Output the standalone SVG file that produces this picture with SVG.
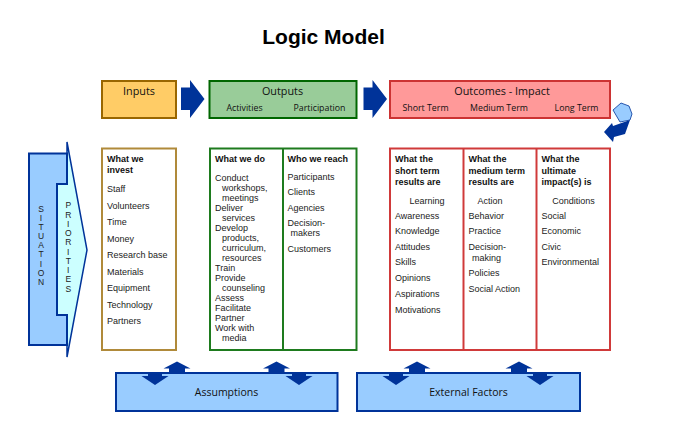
<svg xmlns="http://www.w3.org/2000/svg" width="684" height="444" viewBox="0 0 684 444">
<style>
.title{font-family:"Liberation Sans",Arial,sans-serif;font-size:21px;font-weight:bold;fill:#000}
.hd{font-family:"Open Sans","Noto Sans",sans-serif;font-size:10.8px;fill:#111}
.sub{font-family:"Open Sans","Noto Sans",sans-serif;font-size:8.8px;fill:#111}
.b{font-family:"Liberation Sans",Arial,sans-serif;font-size:9px;fill:#222}
.bb{font-family:"Liberation Sans",Arial,sans-serif;font-size:9px;font-weight:bold;fill:#111}
.vt{font-family:"Liberation Sans",Arial,sans-serif;font-size:8.5px;fill:#222}
.big{font-family:"Open Sans","Noto Sans",sans-serif;font-size:10.5px;fill:#111}
.blk{fill:#003399}
.lb{fill:#99CCFF;stroke:#003399;stroke-width:2}
</style>
<rect width="684" height="444" fill="#fff"/>
<text class="title" x="323.5" y="44" text-anchor="middle">Logic Model</text>

<g id="inputs-header">
<rect x="102" y="81" width="74" height="37" fill="#FFCC66" stroke="#996600" stroke-width="2"/>
<text class="hd" x="139" y="94.5" text-anchor="middle">Inputs</text>
</g>
<g id="outputs-header">
<rect x="209.5" y="81" width="147" height="37" fill="#99CC99" stroke="#006600" stroke-width="2"/>
<text class="hd" x="282.5" y="94.5" text-anchor="middle">Outputs</text>
<text class="sub" x="244.5" y="111" text-anchor="middle">Activities</text>
<text class="sub" x="319.5" y="111" text-anchor="middle">Participation</text>
</g>
<g id="outcomes-header">
<rect x="390" y="81" width="220" height="37" fill="#FF9999" stroke="#CC3333" stroke-width="2"/>
<text class="hd" x="502" y="94.5" text-anchor="middle">Outcomes - Impact</text>
<text class="sub" x="425.5" y="111" text-anchor="middle">Short Term</text>
<text class="sub" x="499" y="111" text-anchor="middle">Medium Term</text>
<text class="sub" x="576.5" y="111" text-anchor="middle">Long Term</text>
</g>

<g id="situation">
<polygon points="67,142 87,250 67,357 67,315 57,315 57,184 67,184" fill="#CCFFFF" stroke="#003399" stroke-width="1.5"/>
<polygon points="29,153.5 67,153.5 67,184 57,184 57,315 67,315 67,345 29,345" fill="#99CCFF" stroke="#003399" stroke-width="2"/>
<g class="vt" text-anchor="middle">
<text x="41" y="211.5">S</text><text x="41" y="220.7">I</text><text x="41" y="229.8">T</text><text x="41" y="239">U</text><text x="41" y="248.2">A</text><text x="41" y="257.4">T</text><text x="41" y="266.5">I</text><text x="41" y="275.7">O</text><text x="41" y="284.9">N</text>
<text x="68.3" y="208.2">P</text><text x="68.3" y="217.5">R</text><text x="68.3" y="226.7">I</text><text x="68.3" y="236">O</text><text x="68.3" y="245.2">R</text><text x="68.3" y="254.5">I</text><text x="68.3" y="263.8">T</text><text x="68.3" y="273">I</text><text x="68.3" y="282.3">E</text><text x="68.3" y="291.5">S</text>
</g>
</g>

<g id="inputs-column">
<rect x="102" y="148.5" width="74" height="201.5" fill="#fff" stroke="#B08A3A" stroke-width="2"/>
<text class="bb" x="107" y="162">What we</text>
<text class="bb" x="107" y="173">invest</text>
<text class="b" x="107" y="192">Staff</text>
<text class="b" x="107" y="208.5">Volunteers</text>
<text class="b" x="107" y="225">Time</text>
<text class="b" x="107" y="241.5">Money</text>
<text class="b" x="107" y="258">Research base</text>
<text class="b" x="107" y="274.5">Materials</text>
<text class="b" x="107" y="291">Equipment</text>
<text class="b" x="107" y="307.5">Technology</text>
<text class="b" x="107" y="324">Partners</text>
</g>

<g id="outputs-column">
<rect x="210" y="148.5" width="146.5" height="201.5" fill="#fff" stroke="#1E7B1E" stroke-width="2"/>
<line x1="283" y1="148.5" x2="283" y2="350" stroke="#1E7B1E" stroke-width="2"/>
<text class="bb" x="215" y="162">What we do</text>
<text class="b" x="215" y="181">Conduct</text>
<text class="b" x="222" y="191">workshops,</text>
<text class="b" x="222" y="201">meetings</text>
<text class="b" x="215" y="211">Deliver</text>
<text class="b" x="222" y="221">services</text>
<text class="b" x="215" y="231">Develop</text>
<text class="b" x="222" y="241">products,</text>
<text class="b" x="222" y="251">curriculum,</text>
<text class="b" x="222" y="261">resources</text>
<text class="b" x="215" y="271">Train</text>
<text class="b" x="215" y="281">Provide</text>
<text class="b" x="222" y="291">counseling</text>
<text class="b" x="215" y="301">Assess</text>
<text class="b" x="215" y="311">Facilitate</text>
<text class="b" x="215" y="321">Partner</text>
<text class="b" x="215" y="331">Work with</text>
<text class="b" x="222" y="341">media</text>
<text class="bb" x="287.5" y="162">Who we reach</text>
<text class="b" x="287.5" y="180">Participants</text>
<text class="b" x="287.5" y="195">Clients</text>
<text class="b" x="287.5" y="211">Agencies</text>
<text class="b" x="287.5" y="226">Decision-</text>
<text class="b" x="290.5" y="236">makers</text>
<text class="b" x="287.5" y="252">Customers</text>
</g>

<g id="outcomes-column">
<rect x="390" y="148.5" width="220" height="201.5" fill="#fff" stroke="#D03A3A" stroke-width="2"/>
<line x1="463.5" y1="148.5" x2="463.5" y2="350" stroke="#D03A3A" stroke-width="2"/>
<line x1="536.5" y1="148.5" x2="536.5" y2="350" stroke="#D03A3A" stroke-width="2"/>
<text class="bb" x="395" y="162">What the</text>
<text class="bb" x="395" y="173.5">short term</text>
<text class="bb" x="395" y="185">results are</text>
<text class="b" x="427" y="203.5" text-anchor="middle">Learning</text>
<text class="b" x="395" y="219">Awareness</text>
<text class="b" x="395" y="234">Knowledge</text>
<text class="b" x="395" y="250">Attitudes</text>
<text class="b" x="395" y="265">Skills</text>
<text class="b" x="395" y="280.5">Opinions</text>
<text class="b" x="395" y="296.5">Aspirations</text>
<text class="b" x="395" y="312.5">Motivations</text>
<text class="bb" x="468.5" y="162">What the</text>
<text class="bb" x="468.5" y="173.5">medium term</text>
<text class="bb" x="468.5" y="185">results are</text>
<text class="b" x="490" y="203.5" text-anchor="middle">Action</text>
<text class="b" x="468.5" y="219">Behavior</text>
<text class="b" x="468.5" y="234">Practice</text>
<text class="b" x="468.5" y="250">Decision-</text>
<text class="b" x="472" y="260.5">making</text>
<text class="b" x="468.5" y="276">Policies</text>
<text class="b" x="468.5" y="291.5">Social Action</text>
<text class="bb" x="541.5" y="162">What the</text>
<text class="bb" x="541.5" y="173.5">ultimate</text>
<text class="bb" x="541.5" y="185">impact(s) is</text>
<text class="b" x="573.5" y="203.5" text-anchor="middle">Conditions</text>
<text class="b" x="541.5" y="219">Social</text>
<text class="b" x="541.5" y="234">Economic</text>
<text class="b" x="541.5" y="250">Civic</text>
<text class="b" x="541.5" y="265">Environmental</text>
</g>

<g id="assumptions">
<rect class="lb" x="116" y="373" width="221.5" height="38"/>
<text class="big" x="226.5" y="396" text-anchor="middle">Assumptions</text>
</g>
<g id="external-factors">
<rect class="lb" x="357" y="373" width="223" height="38"/>
<text class="big" x="468.5" y="396" text-anchor="middle">External Factors</text>
</g>

<g id="connectors">
<polygon class="blk" points="181,87.5 190,87.5 190,80 204.5,99 190,118 190,110 181,110"/>
<polygon class="blk" points="363.5,87.5 372.5,87.5 372.5,80 387,99 372.5,118 372.5,110 363.5,110"/>
<polygon points="613,110 621,103 629,106 632,114 630,120 620,122" fill="#99CCFF" stroke="#003399" stroke-width="0.8"/>
<polygon class="blk" points="604,132 612,123 613,126 630,120 625,134 614,137 613,142"/>
<g class="blk">
<polygon points="177,361.5 190.5,368.5 185,368.5 185,373 169,373 169,368.5 163.5,368.5"/>
<polygon points="148,372 162,372 162,376 168.5,376 155,385 141.5,376 148,376"/>
<polygon points="276.5,361.5 290,368.5 284.5,368.5 284.5,373 268.5,373 268.5,368.5 263,368.5"/>
<polygon points="292,372 306,372 306,376 312.5,376 299,385 285.5,376 292,376"/>
<polygon points="417,361.5 430.5,368.5 425,368.5 425,373 409,373 409,368.5 403.5,368.5"/>
<polygon points="389,372 403,372 403,376 409.5,376 396,385 382.5,376 389,376"/>
<polygon points="519,361.5 532.5,368.5 527,368.5 527,373 511,373 511,368.5 505.5,368.5"/>
<polygon points="533,372 547,372 547,376 553.5,376 540,385 526.5,376 533,376"/>
</g>
</g>
</svg>
